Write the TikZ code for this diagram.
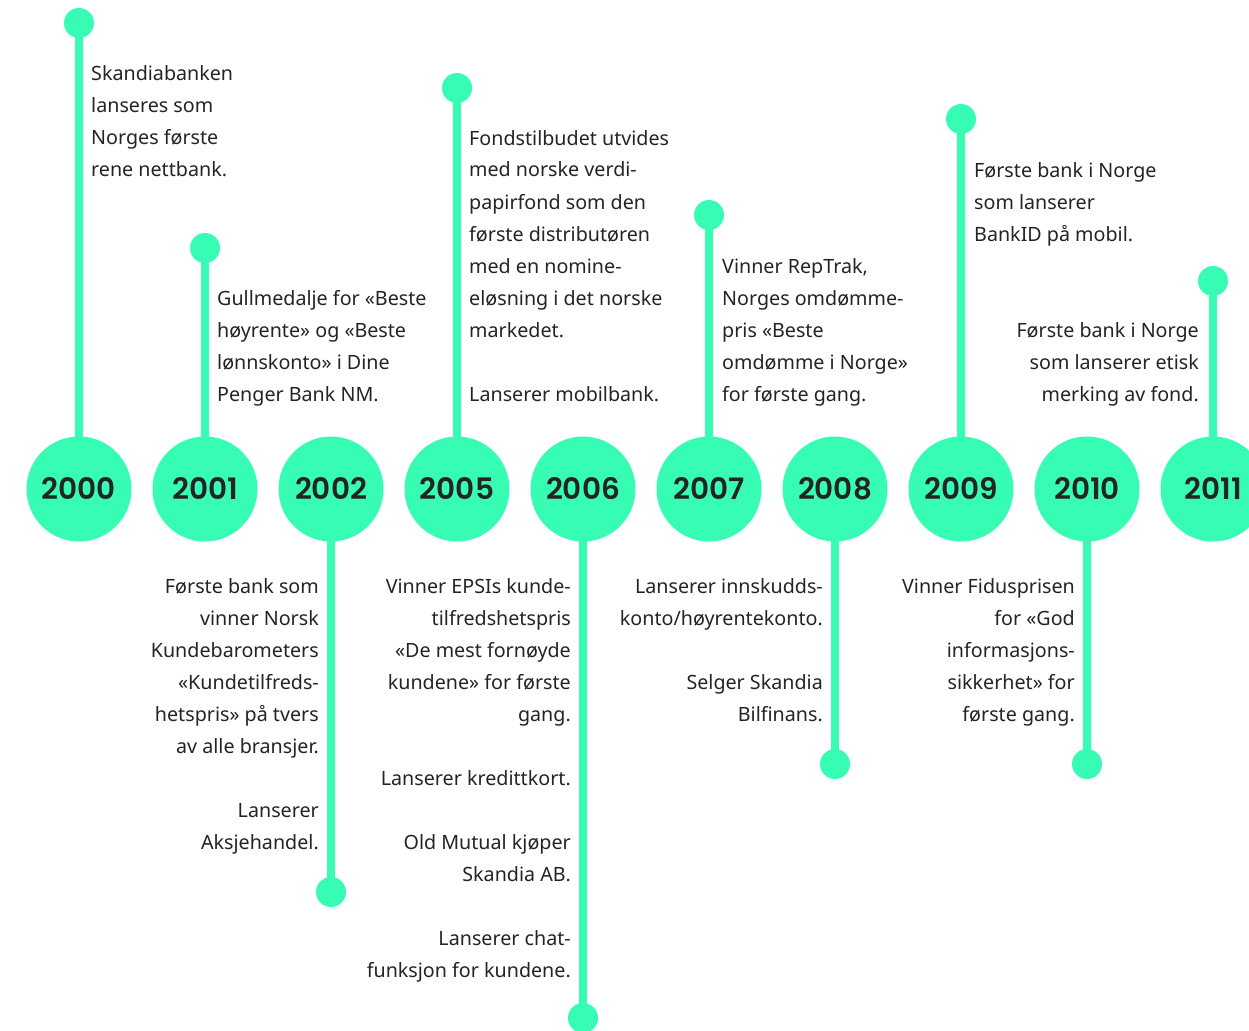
\documentclass[tikz,border=0pt]{standalone}
\usepackage{fontspec}
\setmainfont{Noto Sans}
\newfontfamily\yearfont{Poppins}[BoldFont={Poppins SemiBold}]
\usetikzlibrary{backgrounds}
\definecolor{mint}{RGB}{54,252,180}
\definecolor{ink}{RGB}{36,36,36}
\newcommand\Lblock[1]{\begin{tabular}[t]{@{}l@{}}#1\end{tabular}}
\newcommand\Rblock[1]{\begin{tabular}[t]{@{}r@{}}#1\end{tabular}}
\begin{document}
\begin{tikzpicture}[x=1pt,y=-1pt,
  yearc/.style={circle, fill=mint, minimum size=105pt, inner sep=0pt, text=ink,
    font=\yearfont\bfseries\fontsize{29.5}{30}\selectfont},
  dotc/.style={circle, fill=mint, minimum size=30pt, inner sep=0pt},
  stem/.style={draw=mint, line width=8pt},
  txt/.style={inner sep=0pt, text=ink, font=\fontsize{19.7}{32}\selectfont},
  txtl/.style={txt, anchor=base west},
  txtr/.style={txt, anchor=base east}]
\useasboundingbox (0,0) rectangle (1249,1030);
\clip (0,0) rectangle (1249,1030);

% year circles
\node[yearc] (y2000) at (79,489) {2000};
\node[yearc] (y2001) at (205,489) {2001};
\node[yearc] (y2002) at (331,489) {2002};
\node[yearc] (y2005) at (457,489) {2005};
\node[yearc] (y2006) at (583,489) {2006};
\node[yearc] (y2007) at (709,489) {2007};
\node[yearc] (y2008) at (835,489) {2008};
\node[yearc] (y2009) at (961,489) {2009};
\node[yearc] (y2010) at (1087,489) {2010};
\node[yearc] (y2011) at (1213,489) {2011};

% end dots
\node[dotc] (d2000) at (79,23) {};
\node[dotc] (d2001) at (205,248) {};
\node[dotc] (d2002) at (331,892) {};
\node[dotc] (d2005) at (457,88) {};
\node[dotc] (d2006) at (583,1018) {};
\node[dotc] (d2007) at (709,215) {};
\node[dotc] (d2008) at (835,764) {};
\node[dotc] (d2009) at (961,119) {};
\node[dotc] (d2010) at (1087,764) {};
\node[dotc] (d2011) at (1213,281) {};

% stems
\begin{scope}[on background layer]
\foreach \y in {2000,2001,2002,2005,2006,2007,2008,2009,2010,2011}
  \draw[stem] (d\y.center) -- (y\y.center);
\end{scope}

% texts above
\node[txtl] (t2000) at (91,81) {\Lblock{Skandiabanken\\lanseres som\\Norges første\\rene nettbank.}};
\node[txtl] (t2001) at (217,305) {\Lblock{Gullmedalje for «Beste\\høyrente» og «Beste\\lønnskonto» i Dine\\Penger Bank NM.}};
\node[txtl] (t2005) at (469,145) {\Lblock{Fondstilbudet utvides\\med norske verdi-\\papirfond som den\\første distributøren\\med en nomine-\\eløsning i det norske\\markedet.\\ \\Lanserer mobilbank.}};
\node[txtl] (t2007) at (722,273) {\Lblock{Vinner RepTrak,\\Norges omdømme-\\pris «Beste\\omdømme i Norge»\\for første gang.}};
\node[txtl] (t2009) at (974,177) {\Lblock{Første bank i Norge\\som lanserer\\BankID på mobil.}};
\node[txtr] (t2011) at (1199,337) {\Rblock{Første bank i Norge\\som lanserer etisk\\merking av fond.}};

% texts below
\node[txtr] (t2002) at (319,593) {\Rblock{Første bank som\\vinner Norsk\\Kundebarometers\\«Kundetilfreds-\\hetspris» på tvers\\av alle bransjer.\\ \\Lanserer\\Aksjehandel.}};
\node[txtr] (t2006) at (571,593) {\Rblock{Vinner EPSIs kunde-\\tilfredshetspris\\«De mest fornøyde\\kundene» for første\\gang.\\ \\Lanserer kredittkort.\\ \\Old Mutual kjøper\\Skandia AB.\\ \\Lanserer chat-\\funksjon for kundene.}};
\node[txtr] (t2008) at (823,593) {\Rblock{Lanserer innskudds-\\konto/høyrentekonto.\\ \\Selger Skandia\\Bilfinans.}};
\node[txtr] (t2010) at (1075,593) {\Rblock{Vinner Fidusprisen\\for «God\\informasjons-\\sikkerhet» for\\første gang.}};
\end{tikzpicture}
\end{document}
